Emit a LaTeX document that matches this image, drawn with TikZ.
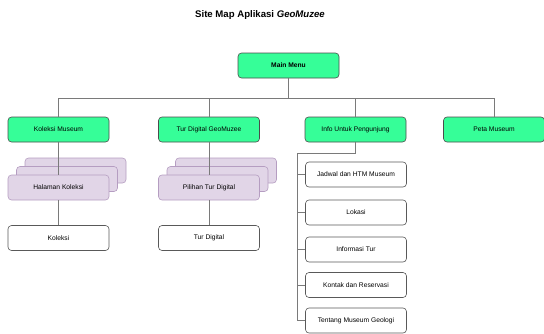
\documentclass[tikz,border=0pt]{standalone}
\usepackage{fontspec}
\setmainfont{Liberation Sans}
\definecolor{boxgreen}{HTML}{36FE98}
\definecolor{boxpurple}{HTML}{E1D5E7}
\definecolor{purpleline}{HTML}{9673A6}
\definecolor{linegray}{HTML}{7A7A7A}
\begin{document}
\begin{tikzpicture}[x=1pt,y=-1pt,
  base/.style={rectangle,rounded corners=3.5pt,minimum width=101pt,minimum height=25pt,inner sep=0pt,font=\fontsize{6.7}{8}\selectfont,line width=0.6pt},
  greenbox/.style={base,fill=boxgreen,draw=black!70},
  purplebox/.style={base,fill=boxpurple,draw=purpleline!70},
  whitebox/.style={base,fill=white,draw=black!65},
  conn/.style={draw=linegray,line width=0.55pt}]
\useasboundingbox (0,0) rectangle (544,333);
\node[font=\bfseries\fontsize{9.6}{11}\selectfont] (title) at (260,15) {Site Map Aplikasi \textit{GeoMuzee}};
\node[greenbox,font=\bfseries\fontsize{6.7}{8}\selectfont] (mm) at (288.5,65.5) {Main Menu};
\node[greenbox] (km) at (58.5,129.5) {Koleksi Museum};
\node[greenbox] (tg) at (209,129.5) {Tur Digital GeoMuzee};
\node[greenbox] (iu) at (355.5,129.5) {Info Untuk Pengunjung};
\node[greenbox] (pm) at (494,129.5) {Peta Museum};
% stacks
\node[purplebox] (hk3) at (75.5,170.5) {};
\node[purplebox] (hk2) at (67,179) {};
\node[purplebox] (hk) at (58.5,187.5) {Halaman Koleksi};
\node[purplebox] (pt3) at (226,170.5) {};
\node[purplebox] (pt2) at (217.5,179) {};
\node[purplebox] (pt) at (209,187.5) {Pilihan Tur Digital};
\node[whitebox] (ko) at (58.5,238) {Koleksi};
\node[whitebox] (td) at (209,238) {Tur Digital};
% info children
\node[whitebox] (jd) at (356,174.5) {Jadwal dan HTM Museum};
\node[whitebox] (lk) at (356,212.5) {Lokasi};
\node[whitebox] (it) at (356,249.5) {Informasi Tur};
\node[whitebox] (kr) at (356,285) {Kontak dan Reservasi};
\node[whitebox] (tm) at (356,320.5) {Tentang Museum Geologi};
% bus
\coordinate (busy) at (0,98);
\draw[conn] (mm.south) -- (mm.south |- busy);
\draw[conn] (km.north) -- (km.north |- busy) -- (pm.north |- busy) -- (pm.north);
\draw[conn] (tg.north) -- (tg.north |- busy);
\draw[conn] (iu.north) -- (iu.north |- busy);
\draw[conn] (km.south) -- (hk.north);
\draw[conn] (hk.south) -- (ko.north);
\draw[conn] (tg.south) -- (pt.north);
\draw[conn] (pt.south) -- (td.north);
\coordinate (spine) at (297,153);
\draw[conn] (iu.south) -- (iu.south |- spine) -- (spine) -- (spine |- tm) -- (tm.west);
\foreach \c in {jd,lk,it,kr} \draw[conn] (spine |- \c) -- (\c.west);
\end{tikzpicture}
\end{document}
